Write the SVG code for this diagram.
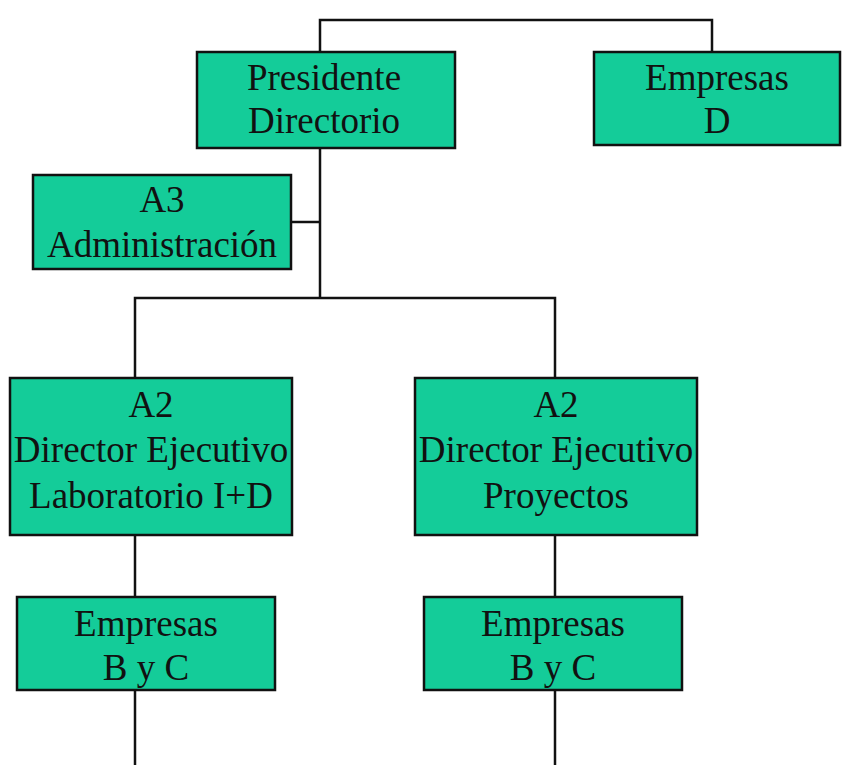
<svg xmlns="http://www.w3.org/2000/svg" width="842" height="765" viewBox="0 0 842 765">
<style>
.box{fill:#14CC99;stroke:#111;stroke-width:2.5}
.t{font-family:"Liberation Serif","Times New Roman",serif;font-size:37px;fill:#111;text-anchor:middle}
.c{fill:none;stroke:#111;stroke-width:2.5}
</style>
<rect width="842" height="765" fill="#fff"/>
<g id="connectors">
<polyline class="c" points="320,52 320,20 712,20 712,52"/>
<line class="c" x1="320" y1="148" x2="320" y2="298"/>
<line class="c" x1="291" y1="222" x2="320" y2="222"/>
<polyline class="c" points="135,378 135,298 555,298 555,378"/>
<line class="c" x1="135" y1="535" x2="135" y2="597"/>
<line class="c" x1="555" y1="535" x2="555" y2="597"/>
<line class="c" x1="135" y1="690" x2="135" y2="765"/>
<line class="c" x1="555" y1="690" x2="555" y2="765"/>
</g>
<g id="presidente">
<rect class="box" x="197" y="52" width="258" height="96"/>
<text class="t" x="324" y="90">Presidente</text>
<text class="t" x="324" y="133">Directorio</text>
</g>
<g id="empresas-d">
<rect class="box" x="594" y="52" width="246" height="93"/>
<text class="t" x="717" y="90">Empresas</text>
<text class="t" x="717" y="133">D</text>
</g>
<g id="a3">
<rect class="box" x="33" y="175" width="258" height="94"/>
<text class="t" x="162" y="212">A3</text>
<text class="t" x="162" y="257">Administración</text>
</g>
<g id="a2-lab">
<rect class="box" x="10" y="378" width="282" height="157"/>
<text class="t" x="151" y="417">A2</text>
<text class="t" x="151" y="462">Director Ejecutivo</text>
<text class="t" x="151" y="508">Laboratorio I+D</text>
</g>
<g id="a2-proy">
<rect class="box" x="415" y="378" width="282" height="157"/>
<text class="t" x="556" y="417">A2</text>
<text class="t" x="556" y="462">Director Ejecutivo</text>
<text class="t" x="556" y="508">Proyectos</text>
</g>
<g id="empresas-bc-1">
<rect class="box" x="17" y="597" width="258" height="93"/>
<text class="t" x="146" y="636">Empresas</text>
<text class="t" x="146" y="680">B y C</text>
</g>
<g id="empresas-bc-2">
<rect class="box" x="424" y="597" width="258" height="93"/>
<text class="t" x="553" y="636">Empresas</text>
<text class="t" x="553" y="680">B y C</text>
</g>
</svg>
